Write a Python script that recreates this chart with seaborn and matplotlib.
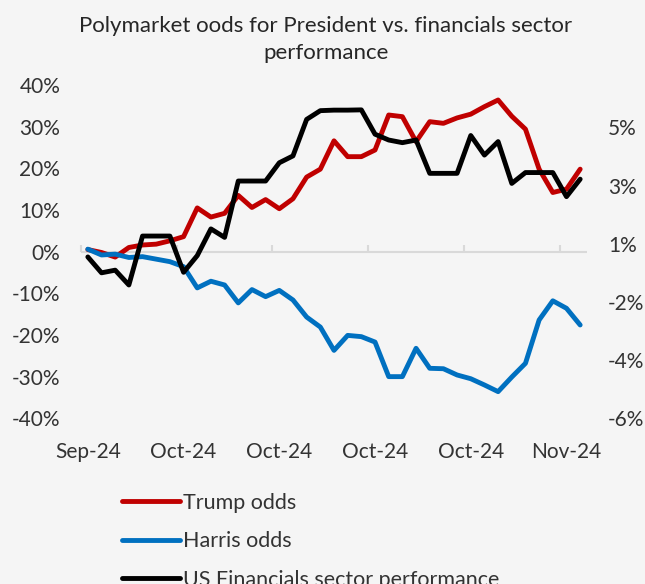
import seaborn as sns
import matplotlib.pyplot as plt
from matplotlib.ticker import FuncFormatter

# dane (37 punktow, wrzesien - listopad 2024)
trump_odds = [0.5, -0.2, -1.3, 1.0, 1.6, 1.8, 2.6, 3.6, 10.5, 8.3, 9.2, 13.5, 10.6,
              12.5, 10.3, 12.7, 17.9, 19.8, 26.6, 22.8, 22.8, 24.4, 32.8, 32.4, 26.4,
              31.2, 30.8, 32.1, 33.0, 34.8, 36.4, 32.5, 29.4, 19.8, 14.2, 15.0, 19.8]
harris_odds = [0.6, -0.8, -0.6, -1.4, -1.2, -1.8, -2.4, -3.6, -8.7, -7.1, -8.0, -12.3,
               -9.1, -10.8, -9.3, -11.6, -15.7, -18.1, -23.7, -20.1, -20.4, -21.7, -30.0,
               -30.0, -23.2, -28.0, -28.1, -29.6, -30.5, -32.0, -33.6, -30.1, -26.8,
               -16.4, -11.8, -13.6, -17.6]
financials = [0.1, -0.5, -0.4, -0.96, 0.89, 0.89, 0.89, -0.48, 0.15, 1.16, 0.84, 2.97,
              2.97, 2.97, 3.66, 3.92, 5.30, 5.63, 5.65, 5.65, 5.66, 4.74, 4.52, 4.42,
              4.52, 3.26, 3.26, 3.26, 4.69, 3.95, 4.46, 2.88, 3.29, 3.29, 3.29, 2.38, 3.04]

x_labels = ['Sep-24', 'Oct-24', 'Oct-24', 'Oct-24', 'Oct-24', 'Nov-24']
x_label_pos = [0, 7, 14, 21, 28, 35]
left_ticks = [-40, -30, -20, -10, 0, 10, 20, 30, 40]
right_ticks = [-6, -3.8, -1.6, 0.6, 2.8, 5.0]

idx = list(range(len(trump_odds)))

#ustawienia
sns.set_theme(style="white")
plt.rcParams['font.family'] = ['Lato', 'DejaVu Sans']
bg = '#F5F5F5'
txt = '#333333'
grey = '#D9D9D9'
lw = 3.5

fig = plt.figure(figsize=(6.45, 5.84), dpi=100, facecolor=bg)
ax = fig.add_axes([81/645, 1-418.3/584, (587-81)/645, (418.3-85)/584])
ax.set_facecolor(bg)

# linia 0% pod wykresami
ax.axhline(0, color=grey, lw=1.5, zorder=0)

sns.lineplot(x=idx, y=trump_odds, ax=ax, color='#C00000', lw=lw, label='Trump odds')
sns.lineplot(x=idx, y=harris_odds, ax=ax, color='#0070C0', lw=lw, label='Harris odds')

ax2 = ax.twinx()
sns.lineplot(x=idx, y=financials, ax=ax2, color='black', lw=lw,
             label='US Financials sector performance')

ax.set_xlim(-0.5, len(idx) - 0.5)
ax.set_ylim(-40, 40)
ax2.set_ylim(-6.0, 6.6)

ax.set_yticks(left_ticks)
ax.yaxis.set_major_formatter(FuncFormatter(lambda v, p: f'{v:.0f}%'))
ax2.set_yticks(right_ticks)
ax2.yaxis.set_major_formatter(FuncFormatter(lambda v, p: f'{v:.0f}%'))

ax.tick_params(axis='y', length=0, pad=15, labelsize=15, labelcolor=txt)
ax2.tick_params(axis='y', length=0, pad=15, labelsize=15, labelcolor=txt)

ax.set_xticks(x_label_pos)
ax.set_xticklabels(x_labels)
ax.tick_params(axis='x', length=0, pad=17, labelsize=15, labelcolor=txt)

# kreski osi poziomej miedzy kategoriami
sec = ax.secondary_xaxis(0.5)
sec.set_xticks([p - 0.5 for p in x_label_pos])
sec.set_xticklabels([])
sec.tick_params(axis='x', length=5, width=1.5, color=grey)
for s in sec.spines.values():
    s.set_visible(False)

for a in (ax, ax2):
    for s in a.spines.values():
        s.set_visible(False)
    a.set_xlabel('')
    a.set_ylabel('')

h1, l1 = ax.get_legend_handles_labels()
h2, l2 = ax2.get_legend_handles_labels()
ax.get_legend().remove()
ax2.get_legend().remove()
fig.legend(h1 + h2, l1 + l2, loc='upper left', bbox_to_anchor=(122/645, 1-493/584),
           frameon=False, fontsize=15.5, handlelength=2.7, handletextpad=0.15,
           labelspacing=0.85, borderpad=0, borderaxespad=0, labelcolor=txt)

fig.text(0.505, 1-16/584, 'Polymarket oods for President vs. financials sector\nperformance',
         ha='center', va='top', fontsize=16, color='#262626', linespacing=1.45)

fig.savefig('out.png', dpi=100, facecolor=bg)
